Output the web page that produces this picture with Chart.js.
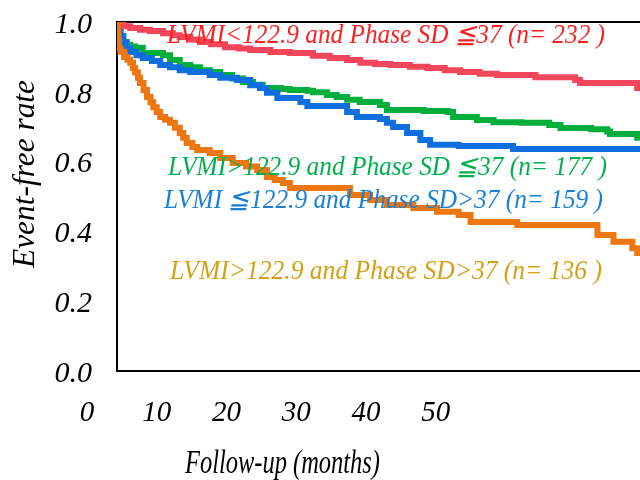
<!DOCTYPE html>
<html>
<head>
<meta charset="utf-8">
<script src="https://cdn.jsdelivr.net/npm/chart.js@4"></script>
<style>
  body { margin: 0; background: #fff; }
</style>
</head>
<body>
<canvas id="kmChart" width="640" height="480"></canvas>
<script>
// Kaplan-Meier steps: month of each drop and the event-free rate after it
const redTime = [0, 0.4, 1.0, 1.9, 3.3, 4.7, 6.6, 8.0, 9.0, 10.5, 11.9, 13.5, 15.5, 17.5, 19.1, 22.0, 24.8, 28.1, 30.5, 33.0, 34.9, 37.0, 39.2, 42.0, 44.5, 47.0, 49.2, 52.0, 54.5, 60.0, 65.7, 66.4, 74.6, 75];
const redRate = [1.0, 0.994, 0.988, 0.983, 0.978, 0.974, 0.968, 0.962, 0.957, 0.950, 0.943, 0.936, 0.928, 0.924, 0.920, 0.914, 0.911, 0.903, 0.897, 0.891, 0.883, 0.880, 0.877, 0.872, 0.868, 0.862, 0.857, 0.852, 0.848, 0.842, 0.834, 0.825, 0.811, 0.811];

const greenTime = [0, 0.2, 0.5, 0.9, 1.4, 1.9, 2.6, 3.7, 6.6, 7.6, 9.0, 10.5, 11.9, 13.3, 14.8, 16.5, 18.1, 19.5, 20.9, 23.5, 24.8, 27.3, 28.1, 30.1, 31.5, 33.0, 34.8, 37.7, 38.7, 44.0, 47.4, 48.2, 51.6, 54.0, 58.0, 62.0, 63.6, 68.0, 70.3, 70.7, 74.6, 75];
const greenRate = [1.0, 0.98, 0.96, 0.943, 0.935, 0.93, 0.926, 0.911, 0.905, 0.891, 0.877, 0.870, 0.862, 0.857, 0.848, 0.838, 0.828, 0.820, 0.811, 0.808, 0.805, 0.803, 0.799, 0.791, 0.785, 0.777, 0.771, 0.762, 0.748, 0.745, 0.742, 0.728, 0.719, 0.713, 0.711, 0.705, 0.696, 0.693, 0.686, 0.679, 0.668, 0.668];

const blueTime = [0, 0.2, 0.5, 0.9, 1.3, 1.9, 2.8, 3.7, 5.0, 6.2, 7.6, 9.0, 10.5, 13.3, 14.8, 17.2, 19.1, 20.5, 21.5, 23.0, 26.3, 27.3, 33.0, 34.4, 37.7, 38.7, 39.6, 41.6, 43.5, 44.9, 49.0, 56.8, 75];
const blueRate = [1.0, 0.98, 0.96, 0.940, 0.925, 0.914, 0.905, 0.897, 0.888, 0.877, 0.870, 0.862, 0.857, 0.848, 0.840, 0.834, 0.819, 0.811, 0.797, 0.782, 0.771, 0.759, 0.742, 0.728, 0.722, 0.711, 0.699, 0.682, 0.662, 0.648, 0.645, 0.636, 0.636];

const orangeTime = [0, 0.1, 0.2, 0.3, 0.5, 1.0, 1.5, 1.9, 2.3, 2.6, 3.0, 3.3, 3.8, 4.3, 4.8, 5.2, 5.7, 6.2, 6.9, 7.6, 8.3, 9.0, 9.5, 10.0, 10.8, 11.5, 13.3, 14.8, 16.6, 18.5, 20.1, 21.5, 22.6, 23.8, 24.8, 33.4, 36.3, 38.7, 42.5, 45.9, 49.0, 50.7, 57.4, 68.9, 71.2, 73.9, 74.6, 75];
const orangeRate = [1.0, 0.97, 0.945, 0.925, 0.915, 0.90, 0.892, 0.883, 0.868, 0.855, 0.840, 0.825, 0.805, 0.785, 0.770, 0.756, 0.742, 0.728, 0.720, 0.711, 0.697, 0.682, 0.668, 0.653, 0.642, 0.633, 0.625, 0.610, 0.596, 0.586, 0.576, 0.556, 0.547, 0.539, 0.524, 0.504, 0.490, 0.476, 0.467, 0.456, 0.447, 0.427, 0.418, 0.390, 0.370, 0.352, 0.338, 0.338];

const xTickValues = [0, 10, 20, 30, 40, 50];
const yTickValues = [0, 0.2, 0.4, 0.6, 0.8, 1.0];

const groupNames = [
  "LVMI<122.9 and Phase SD \u226637 (n= 232 )",
  "LVMI>122.9 and Phase SD \u226637 (n= 177 )",
  "LVMI \u2266122.9 and Phase SD>37 (n= 159 )",
  "LVMI>122.9 and Phase SD>37 (n= 136 )"
];

const serif = "'Liberation Serif', 'Times New Roman', 'DejaVu Serif', serif";

function toPoints(times, rates) {
  return times.map((t, i) => ({ x: t, y: rates[i] }));
}

// squeeze a line of text horizontally so it runs from x0 to x1
function fitText(ctx, text, x0, x1, y) {
  const w = ctx.measureText(text).width;
  ctx.save();
  ctx.translate(x0, y);
  ctx.scale((x1 - x0) / w, 1);
  ctx.fillText(text, 0, 0);
  ctx.restore();
}

// group captions inside the plot and both axis titles
const captions = {
  id: "captions",
  afterDatasetsDraw(chart, args, opts) {
    const ctx = chart.ctx;
    ctx.save();
    ctx.textBaseline = "alphabetic";
    ctx.textAlign = "left";
    ctx.font = "italic 27px " + serif;
    opts.items.forEach(item => {
      ctx.fillStyle = item.color;
      fitText(ctx, item.text, item.x0, item.x1, item.y);
    });

    ctx.fillStyle = "#000";
    const xt = opts.xTitle;
    ctx.font = "italic 33px " + serif;
    fitText(ctx, xt.text, xt.x0, xt.x1, xt.y);

    const yt = opts.yTitle;
    ctx.font = "italic 31px " + serif;
    ctx.translate(yt.x, yt.y1);
    ctx.rotate(-Math.PI / 2);
    fitText(ctx, yt.text, 0, yt.y1 - yt.y0, 0);
    ctx.restore();
  }
};

const tickFont = { family: serif, size: 30, style: "italic" };
const frame = { display: true, color: "#000", width: 2 };

new Chart(document.getElementById("kmChart"), {
  type: "line",
  data: {
    datasets: [
      { data: toPoints(orangeTime, orangeRate), borderColor: "#EC7711" },
      { data: toPoints(redTime, redRate), borderColor: "#F2465A" },
      { data: toPoints(blueTime, blueRate), borderColor: "#0F6FDF" },
      { data: toPoints(greenTime, greenRate), borderColor: "#00AE3C" }
    ]
  },
  options: {
    responsive: false,
    animation: false,
    layout: { padding: { top: 22, left: 0, right: 0, bottom: 0 } },
    elements: {
      line: { borderWidth: 6, stepped: true, fill: false },
      point: { radius: 0 }
    },
    plugins: {
      legend: { display: false },
      tooltip: { enabled: false },
      captions: {
        items: [
          { text: groupNames[0], color: "#FF1F1F", x0: 167, x1: 605, y: 43 },
          { text: groupNames[1], color: "#00B050", x0: 168, x1: 607, y: 175 },
          { text: groupNames[2], color: "#1A80D6", x0: 164, x1: 603, y: 208 },
          { text: groupNames[3], color: "#D4A017", x0: 170, x1: 602, y: 279 }
        ],
        xTitle: { text: "Follow-up (months)", x0: 185, x1: 380, y: 473 },
        yTitle: { text: "Event-free rate", x: 34, y0: 80, y1: 268 }
      }
    },
    scales: {
      x: {
        type: "linear",
        min: 0,
        max: 75,
        grid: { display: false, drawTicks: false },
        border: frame,
        ticks: {
          font: { family: serif, size: 29, style: "italic" },
          color: "#000",
          padding: 25,
          labelOffset: -30,
          maxRotation: 0,
          autoSkip: false
        },
        afterBuildTicks: s => { s.ticks = xTickValues.map(v => ({ value: v })); },
        afterFit: s => { s.height = 109; }
      },
      xTop: {
        type: "linear",
        position: "top",
        min: 0,
        max: 75,
        grid: { display: false, drawTicks: false },
        border: frame,
        ticks: { display: false },
        afterFit: s => { s.height = 0; }
      },
      y: {
        min: 0,
        max: 1,
        grid: { display: false, drawTicks: false },
        border: frame,
        ticks: {
          font: tickFont,
          color: "#000",
          padding: 25,
          labelOffset: 3,
          callback: v => v.toFixed(1)
        },
        afterBuildTicks: s => { s.ticks = yTickValues.map(v => ({ value: v })); },
        afterFit: s => {
          s.width = 117;
          s.paddingTop = 0;
          s.paddingBottom = 0;
        }
      }
    }
  },
  plugins: [captions]
});
</script>
</body>
</html>
